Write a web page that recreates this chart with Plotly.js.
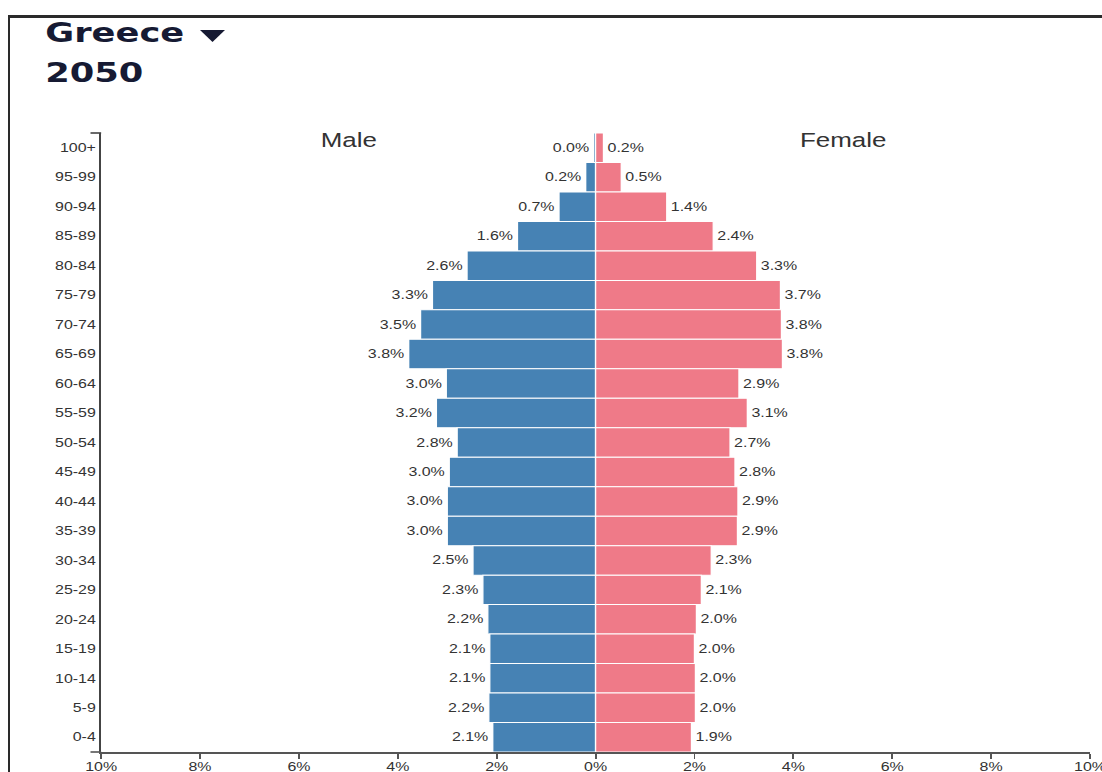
<!DOCTYPE html>
<html>
<head>
<meta charset="utf-8">
<script src="https://cdn.plot.ly/plotly-3.0.1.min.js"></script>
<style>
  html, body { margin: 0; padding: 0; background: #fff; overflow: hidden; }
  #frame { position: absolute; left: 8px; top: 15px; width: 1094px; height: 757px;
           border-top: 3px solid #2a2a2a; border-left: 2px solid #2a2a2a; box-sizing: border-box; }
  #chart { position: absolute; left: 0; top: 0; width: 840px; height: 772px;
           transform: scaleX(1.3309); transform-origin: 0 0; }
</style>
</head>
<body>
<div id="frame"></div>
<div id="chart"></div>
<script>
// Age groups, top to bottom as shown
const ageGroups = ["100+","95-99","90-94","85-89","80-84","75-79","70-74","65-69","60-64","55-59",
                   "50-54","45-49","40-44","35-39","30-34","25-29","20-24","15-19","10-14","5-9","0-4"];
// Percent of population
const maleValues   = [0.04,0.2,0.74,1.58,2.6,3.3,3.54,3.78,3.02,3.22,2.8,2.96,3.0,3.0,2.48,2.28,2.18,2.14,2.14,2.16,2.08];
const femaleValues = [0.16,0.52,1.44,2.38,3.26,3.74,3.76,3.78,2.9,3.07,2.72,2.82,2.88,2.87,2.34,2.14,2.04,2.0,2.02,2.02,1.94];
const xTickVals = [-10,-8,-6,-4,-2,0,2,4,6,8,10];
const xTickText = ["10%","8%","6%","4%","2%","0%","2%","4%","6%","8%","10%"];

// The picture is laid out in a narrower frame and stretched horizontally
const STRETCH = 1.3309;
const W = 840, H = 772;
const M = {l: 76, r: 21, t: 133, b: 20};
const PW = W - M.l - M.r, PH = H - M.t - M.b;
// outer-pixel position -> paper coords
const px = x => (x / STRETCH - M.l) / PW;
const py = y => (H - M.b - y) / PH;

const sans = "Liberation Sans, Arial, sans-serif";
const labelFont = {family: sans, size: 12, color: "#333"};

const male = {
  type: "bar", orientation: "h",
  y: ageGroups, x: maleValues.map(v => -v),
  text: maleValues.map(v => v.toFixed(1) + "%"),
  textposition: "outside", textfont: labelFont, cliponaxis: false,
  marker: {color: "#4682b4", line: {color: "#ffffff", width: 1}},
  hoverinfo: "skip", name: "Male"
};
const female = {
  type: "bar", orientation: "h",
  y: ageGroups, x: femaleValues,
  text: femaleValues.map(v => v.toFixed(1) + "%"),
  textposition: "outside", textfont: labelFont, cliponaxis: false,
  marker: {color: "#ef7a88", line: {color: "#ffffff", width: 1}},
  hoverinfo: "skip", name: "Female"
};

const titleFont = {family: "DejaVu Sans, Verdana, sans-serif", size: 26.5, color: "#161a33"};

const layout = {
  width: W, height: H,
  margin: M,
  paper_bgcolor: "rgba(0,0,0,0)", plot_bgcolor: "rgba(0,0,0,0)",
  barmode: "overlay", bargap: 0.0,
  showlegend: false,
  xaxis: {
    range: [-10, 10], tickvals: xTickVals, ticktext: xTickText,
    showgrid: false, zeroline: false,
    showline: true, linecolor: "#555", linewidth: 1.6,
    ticks: "outside", ticklen: 5, tickcolor: "#555", tickwidth: 1.4,
    ticklabelstandoff: -2,
    tickfont: {family: sans, size: 12, color: "#333"},
    fixedrange: true
  },
  yaxis: {
    type: "category", categoryorder: "array", categoryarray: ageGroups.slice().reverse(),
    range: [-0.5, 20.5],
    showgrid: false, zeroline: false,
    showline: true, linecolor: "#444", linewidth: 1.6,
    ticks: "", ticklabelstandoff: 0,
    tickfont: {family: sans, size: 12, color: "#333"},
    fixedrange: true
  },
  annotations: [
    {text: "Male", x: -5, y: 1, xref: "x", yref: "paper", yanchor: "middle", yshift: -7,
     showarrow: false, font: {family: sans, size: 19.5, color: "#333"}},
    {text: "Female", x: 5, y: 1, xref: "x", yref: "paper", yanchor: "middle", yshift: -7,
     showarrow: false, font: {family: sans, size: 19.5, color: "#333"}},
    {text: "<b>Greece</b>", x: px(43), y: py(32), xref: "paper", yref: "paper", showarrow: false,
     xanchor: "left", yanchor: "middle", font: titleFont},
    {text: "<b>2050</b>", x: px(43), y: py(72), xref: "paper", yref: "paper", showarrow: false,
     xanchor: "left", yanchor: "middle", font: titleFont}
  ],
  shapes: [
    // outer ticks at the ends of the age axis
    {type: "line", xref: "paper", yref: "paper", xsizemode: "pixel", xanchor: 0,
     x0: -8, x1: 0, y0: 1, y1: 1, line: {color: "#444", width: 1.6}},
    {type: "line", xref: "paper", yref: "paper", xsizemode: "pixel", xanchor: 0,
     x0: -8, x1: 0, y0: 0, y1: 0, line: {color: "#555", width: 1.6}},
    // dropdown caret next to the country name
    {type: "path", xref: "paper", yref: "paper",
     path: "M" + px(200) + "," + py(30) + " L" + px(225) + "," + py(30) + " L" + px(212.5) + "," + py(42) + " Z",
     fillcolor: "#161a33", line: {width: 0}}
  ]
};

Plotly.newPlot("chart", [male, female], layout, {displayModeBar: false, staticPlot: true});
</script>
</body>
</html>
